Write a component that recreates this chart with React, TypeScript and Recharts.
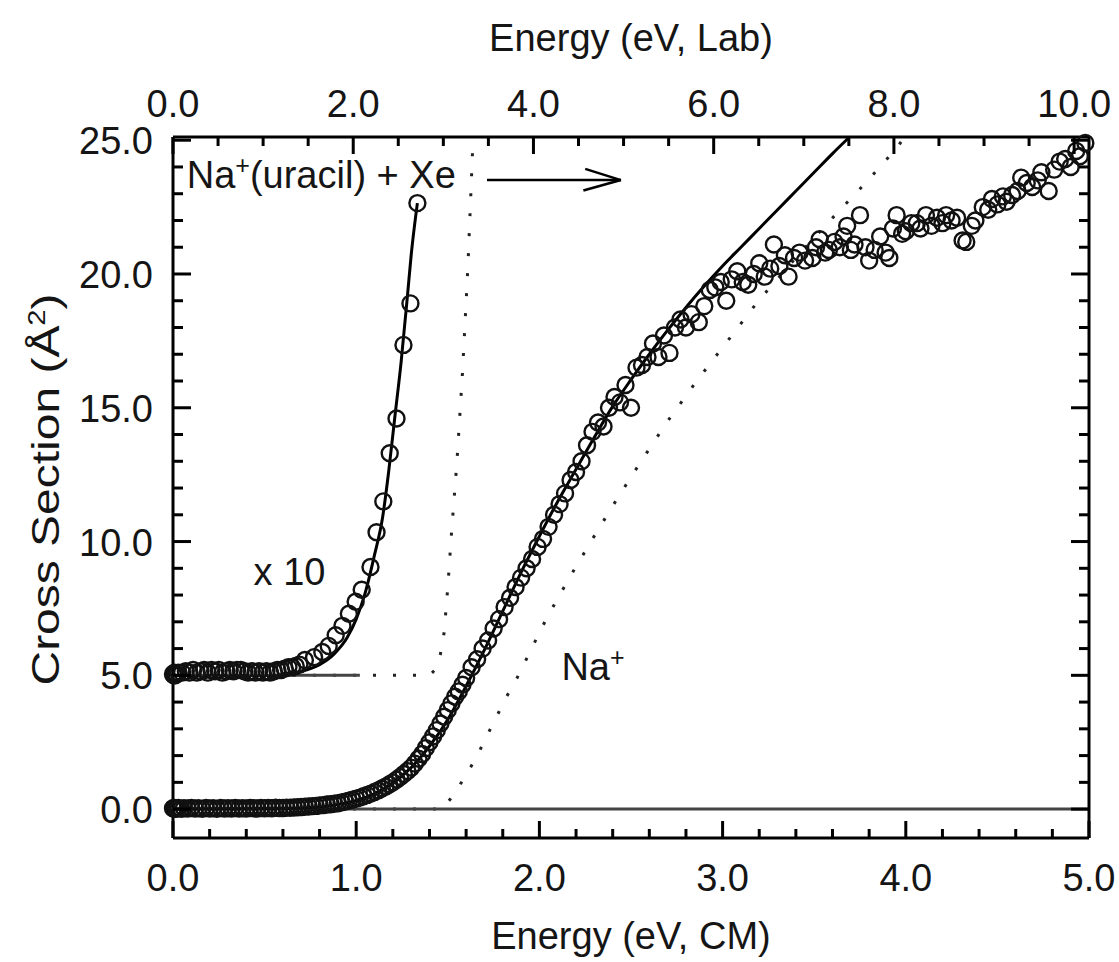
import React from 'react';
import {
  ComposedChart,
  Line,
  Scatter,
  XAxis,
  YAxis,
  ReferenceLine,
  ReferenceDot,
} from 'recharts';

// Na+ cross section (open circles), CM energy in eV, cross section in Å^2
const naEnergy = [
  0.0, 0.004, 0.008, 0.012, 0.016, 0.02, 0.03, 0.045, 0.06, 0.08, 0.1, 0.12, 0.14, 0.16, 0.18, 0.2,
  0.22, 0.24, 0.26, 0.28, 0.3, 0.32, 0.34, 0.36, 0.38, 0.4, 0.42, 0.44, 0.46, 0.48, 0.5, 0.52, 0.54,
  0.56, 0.58, 0.6, 0.62, 0.64, 0.66, 0.68, 0.7, 0.72, 0.74, 0.76, 0.78, 0.8, 0.82, 0.84, 0.86, 0.88,
  0.9, 0.92, 0.94, 0.96, 0.98, 1.0, 1.02, 1.04, 1.06, 1.08, 1.1, 1.12, 1.14, 1.16, 1.18, 1.2, 1.22,
  1.24, 1.26, 1.28, 1.3, 1.32, 1.34, 1.36, 1.38, 1.4, 1.42, 1.44, 1.46, 1.48, 1.5, 1.52, 1.54, 1.56,
  1.58, 1.6, 1.63, 1.66, 1.69, 1.72, 1.75, 1.78, 1.81, 1.84, 1.87, 1.9, 1.93, 1.96, 1.99, 2.02, 2.05,
  2.08, 2.11, 2.14, 2.17, 2.2, 2.23, 2.26, 2.29, 2.32, 2.35, 2.38, 2.41, 2.44, 2.47, 2.5, 2.53, 2.56,
  2.59, 2.62, 2.65, 2.68, 2.71, 2.74, 2.77, 2.8, 2.83, 2.87, 2.9, 2.93, 2.96, 2.99, 3.02, 3.05, 3.08,
  3.11, 3.14, 3.17, 3.2, 3.23, 3.26, 3.28, 3.31, 3.34, 3.36, 3.39, 3.42, 3.45, 3.49, 3.51, 3.53, 3.56,
  3.58, 3.61, 3.64, 3.66, 3.68, 3.7, 3.72, 3.75, 3.78, 3.8, 3.83, 3.86, 3.89, 3.91, 3.93, 3.95, 3.98,
  4.0, 4.03, 4.06, 4.08, 4.11, 4.14, 4.17, 4.2, 4.22, 4.25, 4.28, 4.31, 4.33, 4.36, 4.38, 4.42, 4.45,
  4.47, 4.5, 4.53, 4.55, 4.58, 4.61, 4.63, 4.66, 4.69, 4.72, 4.74, 4.78, 4.81, 4.84, 4.87, 4.9, 4.93,
  4.95, 4.98,
];
const naCross = [
  0.03, 0.02, 0.04, 0.01, 0.03, 0.02, 0.04, 0.01, 0.03, 0.02, 0.04, 0.02, 0.03, 0.01, 0.04, 0.02,
  0.03, 0.01, 0.04, 0.02, 0.03, 0.02, 0.04, 0.02, 0.03, 0.02, 0.04, 0.03, 0.02, 0.04, 0.03, 0.04, 0.03,
  0.05, 0.04, 0.04, 0.05, 0.05, 0.06, 0.07, 0.08, 0.09, 0.1, 0.11, 0.12, 0.14, 0.15, 0.17, 0.18, 0.2,
  0.22, 0.25, 0.28, 0.31, 0.35, 0.39, 0.43, 0.48, 0.53, 0.58, 0.64, 0.7, 0.77, 0.84, 0.92, 1.0, 1.1,
  1.2, 1.31, 1.42, 1.55, 1.7, 1.88, 2.06, 2.28, 2.5, 2.72, 2.95, 3.2, 3.45, 3.7, 3.95, 4.2, 4.4,
  4.65, 4.9, 5.3, 5.6, 6.0, 6.3, 6.75, 7.1, 7.55, 7.9, 8.3, 8.65, 9.0, 9.35, 9.8, 10.1, 10.55,
  11.0, 11.4, 11.8, 12.3, 12.6, 13.0, 13.6, 14.1, 14.45, 14.3, 15.0, 15.4, 15.2, 15.85, 15.0, 16.5, 16.6,
  16.9, 17.4, 16.9, 17.7, 17.05, 18.0, 18.3, 18.0, 18.5, 18.2, 18.8, 19.4, 19.5, 19.7, 19.0, 19.8, 20.1,
  19.7, 19.6, 20.0, 20.4, 19.9, 20.2, 21.1, 20.3, 20.7, 19.9, 20.6, 20.8, 20.5, 20.6, 21.0, 21.3, 20.8,
  20.9, 21.2, 21.0, 21.4, 21.8, 20.9, 21.1, 22.2, 21.0, 20.5, 20.9, 21.4, 20.8, 20.6, 21.7, 22.2, 21.5,
  21.6, 21.9, 21.9, 21.7, 22.2, 21.8, 22.1, 21.9, 22.2, 22.0, 22.1, 21.25, 21.2, 21.8, 22.0, 22.5, 22.4,
  22.8, 22.6, 22.9, 22.7, 22.95, 23.1, 23.6, 23.4, 23.25, 23.5, 23.8, 23.1, 23.9, 24.2, 24.3, 24.0, 24.6,
  24.4, 24.9,
];

// x10 threshold region, plotted with a 5.0 offset
const x10Energy = [
  0.0, 0.004, 0.008, 0.012, 0.02, 0.03, 0.05, 0.07, 0.09, 0.11, 0.13, 0.15, 0.17, 0.19, 0.21, 0.23,
  0.25, 0.27, 0.29, 0.31, 0.33, 0.35, 0.37, 0.39, 0.41, 0.43, 0.45, 0.47, 0.49, 0.51, 0.53, 0.55, 0.57,
  0.59, 0.61, 0.63, 0.65, 0.67, 0.69, 0.72, 0.77, 0.815, 0.85, 0.888, 0.925, 0.96, 0.997, 1.03, 1.078,
  1.111, 1.148, 1.183, 1.22, 1.258, 1.296, 1.334,
];
const x10Cross = [
  5.05, 5.0, 5.1, 5.0, 5.05, 5.1, 5.1, 5.15, 5.1, 5.2, 5.1, 5.15, 5.2, 5.1, 5.2, 5.15,
  5.2, 5.1, 5.15, 5.2, 5.15, 5.2, 5.2, 5.15, 5.1, 5.15, 5.1, 5.15, 5.1, 5.15, 5.1, 5.15, 5.2,
  5.2, 5.25, 5.3, 5.3, 5.35, 5.4, 5.57, 5.68, 5.87, 6.1, 6.5, 6.85, 7.3, 7.75, 8.2, 9.05,
  10.35, 11.5, 13.3, 14.6, 17.35, 18.9, 22.65,
];

// solid model fits
const fitEnergy = [
  0.0, 0.6, 0.8, 0.9, 1.0, 1.1, 1.2, 1.3, 1.4, 1.5, 1.6, 1.7, 1.8, 1.9, 2.0, 2.1, 2.2, 2.3, 2.4,
  2.5, 2.6, 2.7, 2.8, 2.9, 3.0, 3.1, 3.2, 3.3, 3.4, 3.5, 3.6, 3.69,
];
const fitCross = [
  0.0, 0.02, 0.08, 0.17, 0.32, 0.58, 0.98, 1.55, 2.35, 3.35, 4.6, 5.95, 7.4, 8.85, 10.2, 11.5, 12.7,
  13.9, 15.05, 16.05, 17.0, 17.9, 18.75, 19.55, 20.3, 21.0, 21.7, 22.4, 23.1, 23.8, 24.5, 25.1,
];
const fitX10Energy = [0.6, 0.7, 0.8, 0.88, 0.95, 1.0, 1.05, 1.1, 1.144, 1.177, 1.21, 1.245, 1.28, 1.3, 1.334];
const fitX10Cross = [5.05, 5.15, 5.4, 5.8, 6.4, 7.1, 8.1, 9.5, 10.9, 12.6, 14.6, 16.7, 19.2, 20.7, 22.65];
const baseX10Energy = [0.0, 1.02];
const baseX10Cross = [5.0, 5.0];
const baseEnergy = [0.0, 5.0];
const baseCross = [0.0, 0.0];

// dotted unconvoluted models
const dotX10Energy = [0.0, 1.4, 1.43, 1.46, 1.48, 1.5, 1.52, 1.55, 1.58, 1.61, 1.638];
const dotX10Cross = [5.0, 5.0, 5.2, 5.8, 6.6, 8.3, 10.3, 13.0, 16.3, 20.3, 25.1];
const dotEnergy = [
  0.0, 1.47, 1.53, 1.596, 1.656, 1.71, 1.765, 1.82, 1.88, 1.934, 2.04, 2.16, 2.29, 2.42, 2.555, 2.7,
  2.854, 3.023, 3.19, 3.38, 3.573, 3.78, 3.95, 3.99,
];
const dotCross = [
  0.0, 0.0, 0.52, 1.23, 1.94, 2.69, 3.44, 4.19, 4.93, 5.68, 7.14, 8.6, 10.1, 11.55, 13.0, 14.5,
  15.96, 17.46, 18.95, 20.45, 21.9, 23.4, 24.7, 25.1,
];

// axis ticks
const bottomTicks = [
  0, 0.2, 0.4, 0.6, 0.8, 1, 1.2, 1.4, 1.6, 1.8, 2, 2.2, 2.4, 2.6, 2.8, 3, 3.2, 3.4, 3.6, 3.8, 4, 4.2,
  4.4, 4.6, 4.8, 5,
];
const topTicks = [
  0, 0.5, 1, 1.5, 2, 2.5, 3, 3.5, 4, 4.5, 5, 5.5, 6, 6.5, 7, 7.5, 8, 8.5, 9, 9.5, 10,
];
const yTicks = [
  0, 1, 2, 3, 4, 5, 6, 7, 8, 9, 10, 11, 12, 13, 14, 15, 16, 17, 18, 19, 20, 21, 22, 23, 24, 25,
];
const labFactor = 2.033; // E_lab / E_cm

const zip = (xs: number[], ys: number[]) => xs.map((x, i) => ({ x, y: ys[i] }));

const naData = zip(naEnergy, naCross);
const x10Data = zip(x10Energy, x10Cross);
const fitData = zip(fitEnergy, fitCross);
const fitX10Data = zip(fitX10Energy, fitX10Cross);
const baseX10Data = zip(baseX10Energy, baseX10Cross);
const baseData = zip(baseEnergy, baseCross);
const dotX10Data = zip(dotX10Energy, dotX10Cross);
const dotData = zip(dotEnergy, dotCross);

const FONT = "'Liberation Sans', Arial, Helvetica, sans-serif";
const FS = 38;
const INK = '#151515';

const isMult = (v: number, m: number) => Math.abs(v / m - Math.round(v / m)) < 1e-6;

const LeftTick = ({ x, y, payload }: any) => {
  const v = payload.value;
  const major = isMult(v, 5);
  return (
    <g>
      <line x1={x} y1={y} x2={x + (major ? 18 : 10)} y2={y} stroke="#000" strokeWidth={3} />
      {major && (
        <text x={x - 20} y={y + 14} textAnchor="end" fontFamily={FONT} fontSize={FS} fill={INK}>
          {v.toFixed(1)}
        </text>
      )}
    </g>
  );
};

const RightTick = ({ x, y, payload }: any) => {
  const major = isMult(payload.value, 5);
  return <line x1={x} y1={y} x2={x - (major ? 18 : 10)} y2={y} stroke="#000" strokeWidth={3} />;
};

const BottomTick = ({ x, y, payload }: any) => {
  const v = payload.value;
  const major = isMult(v, 1);
  return (
    <g>
      <line x1={x} y1={y} x2={x} y2={y - (major ? 17 : 9)} stroke="#000" strokeWidth={3} />
      {major && (
        <text x={x} y={y + 53} textAnchor="middle" fontFamily={FONT} fontSize={FS} fill={INK}>
          {v.toFixed(1)}
        </text>
      )}
    </g>
  );
};

const TopTick = ({ x, y, payload }: any) => {
  const v = payload.value;
  const major = isMult(v, 2);
  return (
    <g>
      <line x1={x} y1={y} x2={x} y2={y + (major ? 17 : 9)} stroke="#000" strokeWidth={3} />
      {major && (
        <text x={x} y={y - 20} textAnchor="middle" fontFamily={FONT} fontSize={FS} fill={INK}>
          {v.toFixed(1)}
        </text>
      )}
    </g>
  );
};

const Ring = (props: any) => {
  const { cx, cy } = props;
  if (cx == null || cy == null) return null;
  return <circle cx={cx} cy={cy} r={8} fill="none" stroke="#111" strokeWidth={2.4} />;
};

const textAt = (content: React.ReactNode) => (p: any) => (
  <text x={p.cx} y={p.cy} fontFamily={FONT} fontSize={FS} fill={INK}>
    {content}
  </text>
);

export default function App() {
  return (
    <div style={{ position: 'absolute', left: 0, top: 0, background: '#fff' }}>
      <ComposedChart
        width={1119}
        height={962}
        margin={{ top: 136, right: 29, bottom: 123, left: 172 }}
      >
        <XAxis
          xAxisId="bottom"
          type="number"
          dataKey="x"
          domain={[0, 5]}
          ticks={bottomTicks}
          interval={0}
          height={1}
          tickSize={0}
          tickMargin={0}
          tickLine={false}
          axisLine={{ stroke: '#000', strokeWidth: 3 }}
          tick={BottomTick}
          label={{
            content: ({ viewBox }: any) => (
              <text
                x={viewBox.x + viewBox.width / 2}
                y={viewBox.y + 111}
                textAnchor="middle"
                fontFamily={FONT}
                fontSize={FS}
                fill={INK}
              >
                Energy (eV, CM)
              </text>
            ),
          }}
        />
        <XAxis
          xAxisId="top"
          orientation="top"
          type="number"
          dataKey="x"
          domain={[0, 5 * labFactor]}
          ticks={topTicks}
          interval={0}
          height={1}
          tickSize={0}
          tickMargin={0}
          tickLine={false}
          axisLine={{ stroke: '#000', strokeWidth: 3 }}
          tick={TopTick}
          label={{
            content: ({ viewBox }: any) => (
              <text
                x={viewBox.x + viewBox.width / 2}
                y={viewBox.y - 85}
                textAnchor="middle"
                fontFamily={FONT}
                fontSize={FS}
                fill={INK}
              >
                Energy (eV, Lab)
              </text>
            ),
          }}
        />
        <YAxis
          yAxisId="left"
          type="number"
          dataKey="y"
          domain={[-1.08, 25.12]}
          ticks={yTicks}
          interval={0}
          width={1}
          tickSize={0}
          tickMargin={0}
          tickLine={false}
          axisLine={{ stroke: '#000', strokeWidth: 3 }}
          tick={LeftTick}
          label={{
            content: ({ viewBox }: any) => {
              const cx = viewBox.x - 127;
              const cy = viewBox.y + viewBox.height / 2 + 2;
              return (
                <text
                  x={cx}
                  y={cy}
                  dy={14}
                  transform={`rotate(-90, ${cx}, ${cy})`}
                  textAnchor="middle"
                  textLength={392}
                  lengthAdjust="spacingAndGlyphs"
                  fontFamily={FONT}
                  fontSize={FS}
                  fill={INK}
                >
                  Cross Section (Å
                  <tspan dy={-14} fontSize={23}>2</tspan>
                  <tspan dy={14}>)</tspan>
                </text>
              );
            },
          }}
        />
        <YAxis
          yAxisId="right"
          orientation="right"
          type="number"
          dataKey="y"
          domain={[-1.08, 25.12]}
          ticks={yTicks}
          interval={0}
          width={1}
          tickSize={0}
          tickMargin={0}
          tickLine={false}
          axisLine={{ stroke: '#000', strokeWidth: 3 }}
          tick={RightTick}
        />

        {/* keeps the top / right axes bound to a series */}
        <Line
          xAxisId="top"
          yAxisId="right"
          data={[{ x: 0, y: 0 }, { x: 10, y: 25 }]}
          dataKey="y"
          stroke="none"
          dot={false}
          activeDot={false}
          isAnimationActive={false}
        />

        <Line xAxisId="bottom" yAxisId="left" data={dotX10Data} dataKey="y" type="linear"
          stroke="#222" strokeWidth={3} strokeDasharray="3 17" dot={false} isAnimationActive={false} />
        <Line xAxisId="bottom" yAxisId="left" data={dotData} dataKey="y" type="linear"
          stroke="#222" strokeWidth={3} strokeDasharray="3 17" dot={false} isAnimationActive={false} />
        <Line xAxisId="bottom" yAxisId="left" data={baseData} dataKey="y" type="linear"
          stroke="#444" strokeWidth={3} dot={false} isAnimationActive={false} />
        <Line xAxisId="bottom" yAxisId="left" data={baseX10Data} dataKey="y" type="linear"
          stroke="#444" strokeWidth={3} dot={false} isAnimationActive={false} />
        <Line xAxisId="bottom" yAxisId="left" data={fitData} dataKey="y" type="monotone"
          stroke="#000" strokeWidth={3} dot={false} isAnimationActive={false} />
        <Line xAxisId="bottom" yAxisId="left" data={fitX10Data} dataKey="y" type="monotone"
          stroke="#000" strokeWidth={3} dot={false} isAnimationActive={false} />

        <Scatter xAxisId="bottom" yAxisId="left" data={naData} dataKey="y" shape={Ring}
          isAnimationActive={false} />
        <Scatter xAxisId="bottom" yAxisId="left" data={x10Data} dataKey="y" shape={Ring}
          isAnimationActive={false} />

        {/* arrow pointing to higher energy */}
        <ReferenceLine xAxisId="bottom" yAxisId="left" stroke="#000" strokeWidth={2.5}
          segment={[{ x: 1.714, y: 23.51 }, { x: 2.445, y: 23.51 }]} />
        <ReferenceLine xAxisId="bottom" yAxisId="left" stroke="#000" strokeWidth={2.5}
          segment={[{ x: 2.25, y: 23.93 }, { x: 2.445, y: 23.51 }]} />
        <ReferenceLine xAxisId="bottom" yAxisId="left" stroke="#000" strokeWidth={2.5}
          segment={[{ x: 2.24, y: 23.12 }, { x: 2.445, y: 23.51 }]} />

        <ReferenceDot xAxisId="bottom" yAxisId="left" x={0.075} y={23.2} r={0}
          shape={textAt(
            <>
              Na<tspan dy={-14} fontSize={25}>+</tspan>
              <tspan dy={14}>(uracil) + Xe</tspan>
            </>
          )} />
        <ReferenceDot xAxisId="bottom" yAxisId="left" x={0.44} y={8.37} r={0}
          shape={textAt('x 10')} />
        <ReferenceDot xAxisId="bottom" yAxisId="left" x={2.12} y={4.82} r={0}
          shape={textAt(
            <>
              Na<tspan dy={-14} fontSize={25}>+</tspan>
            </>
          )} />
      </ComposedChart>
    </div>
  );
}
